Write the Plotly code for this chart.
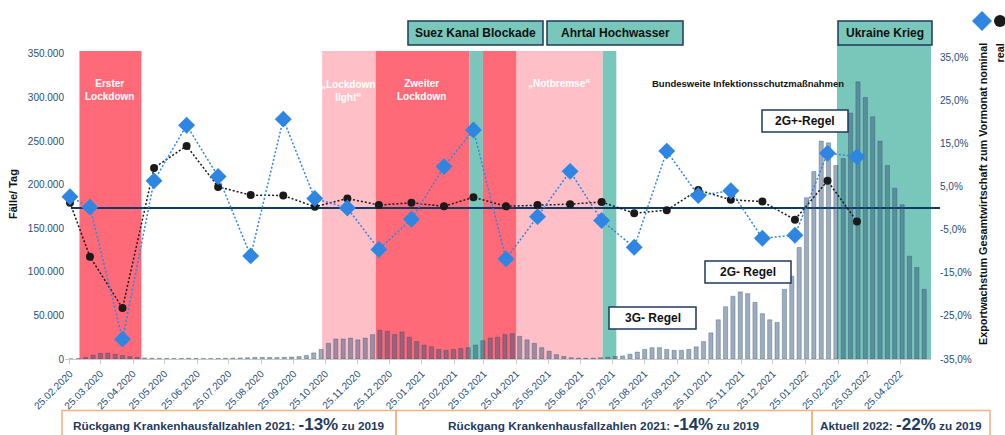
import pandas as pd
import plotly.graph_objects as go

# ---- monthly export growth vs. previous month (%), nominal and real ----
point_dates = [
    "2020-02-25", "2020-03-15", "2020-04-15", "2020-05-15", "2020-06-15", "2020-07-15",
    "2020-08-15", "2020-09-15", "2020-10-15", "2020-11-15", "2020-12-15", "2021-01-15",
    "2021-02-15", "2021-03-15", "2021-04-15", "2021-05-15", "2021-06-15", "2021-07-15",
    "2021-08-15", "2021-09-15", "2021-10-15", "2021-11-15", "2021-12-15", "2022-01-15",
    "2022-02-15", "2022-03-15",
]
export_nominal = [2.6, 0.2, -30.4, 6.3, 19.2, 7.3, -11.1, 20.6, 2.2, 0.0, -9.6, -2.6, 9.6,
                  18.1, -11.8, -2.0, 8.5, -2.9, -9.1, 13.2, 2.9, 4.0, -7.0, -6.3, 12.7, 11.9]
export_real = [1.2, -11.3, -23.2, 9.3, 14.4, 4.9, 3.0, 2.9, 0.3, 2.2, 0.7, 1.2, 0.4,
               2.5, 0.4, 0.7, 0.9, 1.4, -1.2, -0.5, 4.2, 1.9, 1.5, -2.7, 6.3, -3.1]

# ---- new infections per day (weekly peaks, thousands) ----
case_first_week = "2020-02-26"
cases_weekly_k = [
    0.2, 0.5, 2.0, 4.5, 6.5, 6.8, 5.5, 4.0, 2.8, 1.8, 1.2, 0.9, 0.7, 0.6, 0.5, 0.6, 0.9, 0.7,
    0.5, 0.5, 0.6, 0.8, 1.0, 1.2, 1.5, 1.8, 1.8, 1.8, 1.7, 2.0, 2.3, 2.8, 4.0, 7.0, 11.0, 18.0,
    23.0, 23.0, 24.0, 22.0, 24.0, 28.0, 33.0, 32.0, 28.0,
    31.0, 25.0, 20.0, 16.0, 14.0, 11.0, 10.0, 11.0, 12.0, 13.0, 16.0, 21.0, 24.0, 25.0, 28.0,
    29.0, 26.0, 22.0, 18.0, 13.0, 9.0, 5.0, 3.0, 1.5, 1.0, 0.9, 1.0, 1.5, 2.0, 3.0, 3.5, 5.5,
    8.0, 11.0, 13.0, 13.0, 11.0, 10.0, 10.0, 11.0, 14.0, 20.0, 30.0, 45.0, 60.0, 72.0, 77.0,
    75.0, 65.0, 52.0, 45.0, 42.0,
    80.0, 95.0, 128.0, 185.0, 215.0, 250.0, 248.0, 222.0, 230.0, 282.0, 318.0, 300.0, 278.0,
    250.0, 222.0, 196.0, 177.0, 118.0, 105.0, 80.0,
]
case_dates = pd.date_range(case_first_week, periods=len(cases_weekly_k), freq="7D")
cases = [v * 1000 for v in cases_weekly_k]

# ---- x ticks: the 25th of every month ----
tick_dates = pd.date_range("2020-02-25", "2022-04-25", freq=pd.DateOffset(months=1))
tick_text = [d.strftime("%d.%m.%Y") for d in tick_dates]

# ---- right axis ticks ----
growth_ticks = [-35, -25, -15, -5, 5, 15, 25, 35]
growth_tick_text = [f"{v:.1f}%".replace(".", ",") for v in growth_ticks]

# ---- shaded phases ----
phase_starts = ["2020-03-05", "2020-10-22", "2020-12-12", "2021-03-11", "2021-03-24",
                "2021-04-25", "2021-07-16", "2022-02-24"]
phase_ends = ["2020-05-03", "2020-12-12", "2021-03-11", "2021-03-24", "2021-04-25",
              "2021-07-16", "2021-07-29", "2022-05-24 12:00"]
phase_kinds = ["lockdown", "light", "lockdown", "event", "lockdown", "light", "event", "war"]

RED = "#FF6A79"
PINK = "#FFBFC7"
TEAL = "#79C6BB"
NAVY = "#1F4E79"
DARK = "#1F3A5F"
BLUE = "#2F86E2"
ORANGE = "#F4B183"
kind_color = {"lockdown": RED, "light": PINK, "event": TEAL, "war": TEAL}

# plot area in pixels
PL, PR, PT, PB = 65, 931, 51, 359


def fx(px):
    return (px - PL) / (PR - PL)


def fy(py):
    return (PB - py) / (PB - PT)


fig = go.Figure()

fig.add_trace(go.Bar(
    x=case_dates, y=cases, width=4 * 86400000,
    marker=dict(color="rgba(50,84,122,0.48)", line=dict(width=0.6, color="rgba(40,70,105,0.55)")),
    yaxis="y", hoverinfo="skip", showlegend=False,
))
fig.add_trace(go.Scatter(
    x=point_dates, y=export_real, yaxis="y2", mode="lines+markers", cliponaxis=False,
    line=dict(color="#1A1A1A", width=1.5, dash="2px,2px"),
    marker=dict(symbol="circle", size=8, color="#1A1A1A"), showlegend=False,
))
fig.add_trace(go.Scatter(
    x=point_dates, y=export_nominal, yaxis="y2", mode="lines+markers", cliponaxis=False,
    line=dict(color=BLUE, width=1.5, dash="2px,2px"),
    marker=dict(symbol="diamond", size=13, color=BLUE), showlegend=False,
))

shapes = []
for s, e, k in zip(phase_starts, phase_ends, phase_kinds):
    top = fy(45) if k == "war" else 1
    shapes.append(dict(type="rect", xref="x", yref="paper", x0=s, x1=e, y0=0, y1=top,
                       fillcolor=kind_color[k], line=dict(width=0), layer="below"))

# zero line of the growth axis
shapes.append(dict(type="line", xref="paper", yref="y2", x0=fx(71), x1=fx(940), y0=0, y1=0,
                   line=dict(color="#0E3B68", width=2), layer="below"))

annotations = []


def note(px, py, text, size, color="#111111", **kw):
    d = dict(xref="paper", yref="paper", x=fx(px), y=fy(py), text=text, showarrow=False,
             xanchor="center", yanchor="middle", font=dict(size=size, color=color))
    d.update(kw)
    annotations.append(d)


def box(x0, x1, y0, y1, text, fill, border, size=12):
    shapes.append(dict(type="rect", xref="paper", yref="paper", x0=fx(x0), x1=fx(x1),
                       y0=fy(y1), y1=fy(y0), fillcolor=fill,
                       line=dict(color=border, width=1.5), layer="above"))
    note((x0 + x1) / 2, (y0 + y1) / 2, f"<b>{text}</b>", size)


box(408, 543, 21, 45, "Suez Kanal Blockade", TEAL, DARK)
box(547, 683, 21, 45, "Ahrtal Hochwasser", TEAL, DARK)
box(838, 932, 21, 45, "Ukraine Krieg", TEAL, DARK)
box(762, 848, 110, 132, "2G+-Regel", "white", DARK)
box(705, 791, 261, 283, "2G- Regel", "white", DARK)
box(609, 696, 307, 329, "3G- Regel", "white", DARK)

# phase labels
phase_labels = [
    ("2020-04-03", 90, "Erster<br>Lockdown"),
    ("2020-11-16", 91, "„Lockdown<br>light“"),
    ("2021-01-25", 90, "Zweiter<br>Lockdown"),
    ("2021-06-04", 84, "„Notbremse“"),
]
for xd, py, txt in phase_labels:
    annotations.append(dict(xref="x", yref="paper", x=xd, y=fy(py), text=f"<b>{txt}</b>",
                            showarrow=False, xanchor="center", yanchor="middle",
                            font=dict(size=10, color="white")))
note(748, 84, "<b>Bundesweite Infektionsschutzmaßnahmen</b>", 9.5)

# axis titles
note(13, 194, "<b>Fälle/ Tag</b>", 11, textangle=-90)
note(983, 41, "<b>Exportwachstum Gesamtwirtschaft zum Vormonat nominal</b>", 10.8,
     textangle=-90, yanchor="top")
note(1000, 41, "<b>real</b>", 10.8, textangle=-90, yanchor="top")

# legend glyphs
cx, cy, r = 982, 21, 10
shapes.append(dict(type="path", xref="paper", yref="paper", fillcolor=BLUE, line=dict(width=0),
                   path=f"M {fx(cx - r)},{fy(cy)} L {fx(cx)},{fy(cy - r)} L {fx(cx + r)},{fy(cy)} "
                        f"L {fx(cx)},{fy(cy + r)} Z"))
shapes.append(dict(type="circle", xref="paper", yref="paper", fillcolor="#1A1A1A",
                   line=dict(width=0), x0=fx(994), x1=fx(1006), y0=fy(27), y1=fy(15)))

# hospital statistics footer
for x0, x1 in [(62, 396), (396, 812), (812, 990)]:
    shapes.append(dict(type="rect", xref="paper", yref="paper", x0=fx(x0), x1=fx(x1),
                       y0=fy(445), y1=fy(410.5), fillcolor="rgba(0,0,0,0)",
                       line=dict(color=ORANGE, width=1.5)))
footer = [
    (229, "Rückgang Krankenhausfallzahlen 2021: ", "-13%", " zu 2019"),
    (604, "Rückgang Krankenhausfallzahlen 2021: ", "-14%", " zu 2019"),
    (901, "Aktuell 2022: ", "-22%", " zu 2019"),
]
for px, a, b, c in footer:
    note(px, 425, f"<b>{a}<span style='font-size:17px'>{b}</span>{c}</b>", 11.8, color=DARK)

fig.update_layout(
    width=1005, height=435,
    margin=dict(l=PL, r=1005 - PR, t=PT, b=435 - PB),
    paper_bgcolor="white", plot_bgcolor="white",
    font=dict(family="Arial, Liberation Sans, sans-serif", color=NAVY),
    separators=",.",
    barmode="overlay",
    showlegend=False,
    shapes=shapes,
    annotations=annotations,
    xaxis=dict(
        type="date", range=["2020-02-20 06:00", "2022-05-24 12:00"],
        tickvals=list(tick_dates), ticktext=tick_text, tickangle=-45,
        tickfont=dict(size=10, color=NAVY), showgrid=False, zeroline=False,
        showline=True, linecolor="#C8C8C8", ticks="outside", ticklen=4, tickcolor="#C8C8C8",
    ),
    yaxis=dict(
        range=[0, 353400], tickvals=list(range(0, 350001, 50000)), tickformat=",",
        tickfont=dict(size=10, color=NAVY), showgrid=False, zeroline=False,
    ),
    yaxis2=dict(
        overlaying="y", side="right", range=[-35, 36.4],
        tickvals=growth_ticks, ticktext=growth_tick_text, ticklabelstandoff=8,
        tickfont=dict(size=10, color=NAVY), showgrid=False, zeroline=False,
    ),
)

fig.write_html("out.html")
